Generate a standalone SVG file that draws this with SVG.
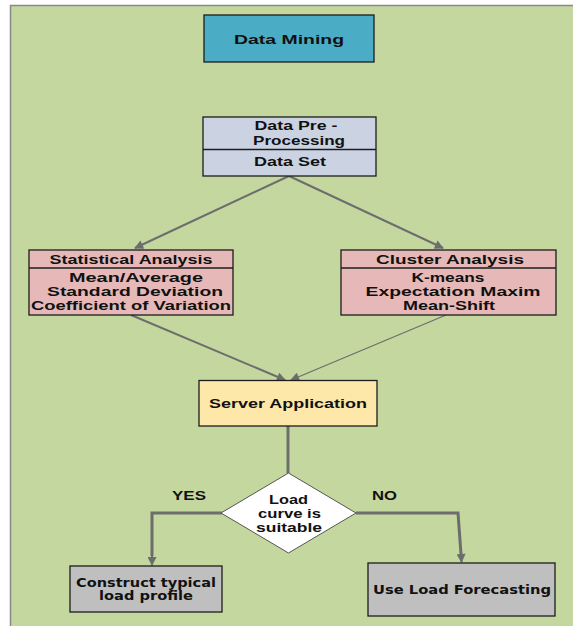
<svg xmlns="http://www.w3.org/2000/svg" width="573" height="626" viewBox="0 0 573 626">
<defs>
<style>
.box{stroke:#1c1c1c;stroke-width:1.3}
.t{font-family:"Liberation Sans",Arial,sans-serif;font-weight:bold;font-size:13px;fill:#111;text-anchor:middle}
.v{font-family:"DejaVu Sans",Verdana,sans-serif;font-weight:bold;font-size:11.5px;fill:#111;text-anchor:middle}
.ln{fill:none;stroke:#6d6d6d;stroke-width:2}
.thin{fill:none;stroke:#6d6d6d;stroke-width:1.2}
.thick{fill:none;stroke:#6d6d6d;stroke-width:3}
</style>
<marker id="ah" viewBox="0 0 10 10" refX="9" refY="5" markerWidth="10" markerHeight="9" markerUnits="userSpaceOnUse" orient="auto">
<path d="M0,0 L10,5 L0,10 z" fill="#6d6d6d"/>
</marker>
</defs>
<rect x="0" y="0" width="573" height="626" fill="#ffffff"/>
<rect x="10.5" y="5.5" width="570" height="630" fill="#c4d79e" stroke="#888" stroke-width="1.5"/>

<g id="connectors">
<line class="ln" x1="289" y1="176" x2="135" y2="248" marker-end="url(#ah)"/>
<line class="ln" x1="289" y1="176" x2="443" y2="248" marker-end="url(#ah)"/>
<line class="ln" x1="131" y1="315" x2="285" y2="380" marker-end="url(#ah)"/>
<line class="thin" x1="446" y1="315" x2="291" y2="380" marker-end="url(#ah)"/>
<line class="thick" x1="288" y1="426" x2="288" y2="473"/>
<polyline class="thick" points="222,513 152,513 152,556"/>
<line class="ln" x1="152" y1="555" x2="152" y2="565" marker-end="url(#ah)"/>
<polyline class="thick" points="356,513 458,513 461,554"/>
<line class="ln" x1="461" y1="553" x2="461.5" y2="562" marker-end="url(#ah)"/>
</g>

<g id="data-mining">
<rect class="box" x="204" y="15" width="170" height="47" fill="#4bacc6"/>
<text class="t" x="289" y="43.5" font-size="14.5" textLength="110" lengthAdjust="spacingAndGlyphs">Data Mining</text>
</g>

<g id="data-preprocessing">
<rect class="box" x="203" y="117" width="173" height="59" fill="#cbd3e3"/>
<line class="box" x1="203" y1="149.5" x2="376" y2="149.5"/>
<text class="t" x="296" y="130" textLength="83" lengthAdjust="spacingAndGlyphs">Data Pre -</text>
<text class="t" x="299" y="144.5" textLength="92" lengthAdjust="spacingAndGlyphs">Processing</text>
<text class="t" x="290" y="166" textLength="72" lengthAdjust="spacingAndGlyphs">Data Set</text>
</g>

<g id="statistical-analysis">
<rect class="box" x="29" y="250" width="204" height="65" fill="#e6b9b8"/>
<line class="box" x1="29" y1="268" x2="233" y2="268"/>
<text class="t" x="131" y="263.5" textLength="163" lengthAdjust="spacingAndGlyphs">Statistical Analysis</text>
<text class="t" x="136" y="281.5" textLength="134" lengthAdjust="spacingAndGlyphs">Mean/Average</text>
<text class="t" x="135" y="295.5" textLength="176" lengthAdjust="spacingAndGlyphs">Standard Deviation</text>
<text class="t" x="131" y="309.5" textLength="200" lengthAdjust="spacingAndGlyphs">Coefficient of Variation</text>
</g>

<g id="cluster-analysis">
<rect class="box" x="341" y="250" width="215" height="65" fill="#e6b9b8"/>
<line class="box" x1="341" y1="268" x2="556" y2="268"/>
<text class="t" x="450" y="263.5" textLength="148" lengthAdjust="spacingAndGlyphs">Cluster Analysis</text>
<text class="t" x="448" y="281.5" textLength="73" lengthAdjust="spacingAndGlyphs">K-means</text>
<text class="t" x="453" y="295.5" textLength="175" lengthAdjust="spacingAndGlyphs">Expectation Maxim</text>
<text class="t" x="449" y="309.5" textLength="92" lengthAdjust="spacingAndGlyphs">Mean-Shift</text>
</g>

<g id="server-application">
<rect class="box" x="199" y="380.5" width="178" height="45.5" fill="#fde8a9"/>
<text class="t" x="288" y="408" font-size="13.5" textLength="158" lengthAdjust="spacingAndGlyphs">Server Application</text>
</g>

<g id="decision">
<polygon points="288.5,473 356,513 288.5,553 221,513" fill="#ffffff" stroke="#555" stroke-width="1"/>
<text class="t" x="288.5" y="503.5" font-size="11.2" textLength="39" lengthAdjust="spacingAndGlyphs">Load</text>
<text class="t" x="289.5" y="517.5" font-size="11.2" textLength="63" lengthAdjust="spacingAndGlyphs">curve is</text>
<text class="t" x="289" y="531.5" font-size="11.2" textLength="66" lengthAdjust="spacingAndGlyphs">suitable</text>
</g>

<g id="labels">
<text class="t" x="189" y="500" textLength="34" lengthAdjust="spacingAndGlyphs">YES</text>
<text class="t" x="384.5" y="500" textLength="25" lengthAdjust="spacingAndGlyphs">NO</text>
</g>

<g id="construct-profile">
<rect class="box" x="70" y="566" width="152" height="46" fill="#bfbfbf"/>
<text class="v" x="146" y="586.5" textLength="140" lengthAdjust="spacingAndGlyphs">Construct typical</text>
<text class="v" x="146" y="600" textLength="94" lengthAdjust="spacingAndGlyphs">load profile</text>
</g>

<g id="load-forecasting">
<rect class="box" x="368" y="563" width="187" height="53" fill="#bfbfbf"/>
<text class="v" x="462" y="594" textLength="178" lengthAdjust="spacingAndGlyphs">Use Load Forecasting</text>
</g>
</svg>
